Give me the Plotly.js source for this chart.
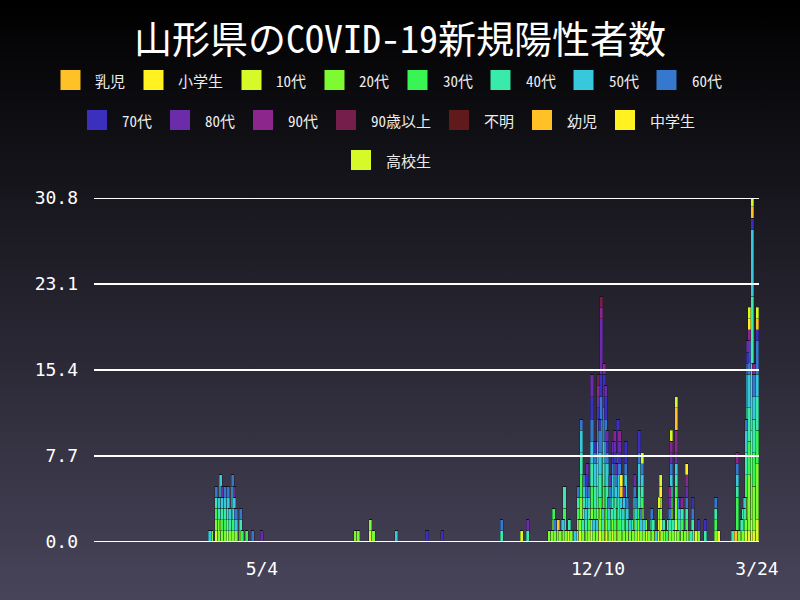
<!DOCTYPE html>
<html>
<head>
<meta charset="utf-8">
<script src="https://cdn.plot.ly/plotly-3.0.1.min.js"></script>
<style>
html,body{margin:0;padding:0;width:800px;height:600px;overflow:hidden;
background:linear-gradient(to bottom,#000000 0%,#48445a 100%);}
#chart{width:800px;height:600px;}
</style>
</head>
<body>
<div id="chart"></div>
<script>
// ---- data (daily new positives by age group, Yamagata) ----
const dates = [
'2020-03-31','2020-04-01','2020-04-04','2020-04-06','2020-04-07','2020-04-08','2020-04-10','2020-04-12','2020-04-13','2020-04-15',
'2020-04-16','2020-04-17','2020-04-20','2020-04-21','2020-04-24','2020-04-28','2020-05-04','2020-07-04','2020-07-06','2020-07-14',
'2020-07-16','2020-07-31','2020-08-20','2020-08-30','2020-10-08','2020-10-21','2020-10-25','2020-11-08','2020-11-09','2020-11-11',
'2020-11-12','2020-11-14','2020-11-15','2020-11-16','2020-11-17','2020-11-18','2020-11-19','2020-11-21','2020-11-23','2020-11-25',
'2020-11-27','2020-11-29','2020-12-01','2020-12-02','2020-12-03','2020-12-04','2020-12-06','2020-12-08','2020-12-09','2020-12-10',
'2020-12-11','2020-12-12','2020-12-13','2020-12-14','2020-12-15','2020-12-16','2020-12-17','2020-12-18','2020-12-19','2020-12-20',
'2020-12-21','2020-12-22','2020-12-23','2020-12-24','2020-12-25','2020-12-26','2020-12-27','2020-12-28','2020-12-29','2020-12-30',
'2020-12-31','2021-01-01','2021-01-03','2021-01-04','2021-01-05','2021-01-06','2021-01-07','2021-01-08','2021-01-09','2021-01-11',
'2021-01-12','2021-01-14','2021-01-16','2021-01-17','2021-01-19','2021-01-20','2021-01-22','2021-01-24','2021-01-26','2021-01-27',
'2021-01-30','2021-02-01','2021-02-02','2021-02-03','2021-02-06','2021-02-08','2021-02-10','2021-02-12','2021-02-14','2021-02-18',
'2021-02-25','2021-02-27','2021-03-08','2021-03-10','2021-03-11','2021-03-12','2021-03-14','2021-03-15','2021-03-16','2021-03-17',
'2021-03-18','2021-03-19','2021-03-21','2021-03-22','2021-03-24',
'2020-11-10','2020-11-20','2020-11-22','2020-11-24','2020-11-26','2020-11-28','2020-11-30','2020-12-05','2020-12-07','2021-01-02',
'2021-01-10','2021-01-13','2021-01-15','2021-01-18','2021-01-21','2021-01-23','2021-01-25','2021-01-28','2021-01-29','2021-01-31',
'2021-02-04','2021-02-05','2021-02-09'
];
const infant = [
0,0,0,0,0,0,0,0,0,0, 0,0,0,0,0,0,0,0,0,0, 0,0,0,0,0,0,0,0,0,0, 0,0,0,0,0,0,0,0,0,0,
0,0,0,0,0,0,0,0,0,0, 0,0,0,0,0,0,0,0,0,0, 0,0,0,0,0,0,0,0,0,0, 0,0,0,0,0,0,0,0,0,0,
0,0,0,0,0,0,0,0,0,0, 1,0,0,0,0,0,0,0,0,0, 0,0,0,0,0,0,0,0,0,0, 0,0,0,0,0,
0,0,0,0,0,0,0,0,0,0, 0,0,0,0,0,0,0,0,0,0, 0,0,0];
const elementary = [
0,0,0,0,0,0,0,0,0,0, 0,0,0,0,0,0,0,0,0,0, 0,0,0,0,0,0,0,0,0,0, 0,0,0,0,0,0,0,0,0,0,
0,1,0,0,0,0,0,0,0,0, 0,1,0,0,0,0,0,0,0,0, 0,0,0,0,1,0,0,0,0,0, 0,0,0,0,1,0,0,1,0,0,
0,0,0,0,1,0,0,0,0,1, 0,0,0,0,0,0,0,0,0,0, 0,0,0,0,0,0,0,0,0,0, 1,0,0,0,0,
0,0,0,1,0,0,0,0,0,0, 1,0,0,0,0,1,0,0,0,0, 0,0,0];
const age10 = [
0,0,1,0,1,0,0,1,0,0, 1,0,0,0,0,0,0,0,0,1, 0,0,0,0,0,1,0,0,1,1, 0,0,0,1,0,0,0,1,0,0,
1,1,1,0,0,0,1,1,0,1, 1,1,0,1,1,1,0,0,1,1, 0,1,1,0,0,0,0,1,0,1, 0,1,1,0,0,1,0,1,0,1,
0,0,1,0,1,2,0,0,0,1, 1,0,1,0,0,0,0,1,0,0, 0,0,0,0,0,0,0,0,1,1, 1,1,2,1,2,
0,1,0,0,0,1,0,1,0,0, 0,1,0,1,0,0,1,0,1,0, 1,0,0];
const age20 = [
0,1,1,2,1,1,1,1,1,1, 1,1,1,0,0,0,0,1,1,1, 1,0,0,0,0,0,0,1,0,1, 1,1,1,0,1,1,1,0,1,0,
1,2,2,1,1,1,2,1,1,2, 2,2,1,2,2,1,1,1,1,1, 1,1,1,1,1,1,1,1,1,1, 1,0,1,1,1,1,1,1,1,0,
1,1,0,0,1,1,1,0,1,1, 2,1,1,1,1,1,1,0,1,0, 1,0,0,0,1,1,1,1,1,3, 4,5,8,4,5,
1,0,1,0,1,1,1,1,1,1, 1,0,1,0,1,0,1,1,0,1, 0,1,0];
const age30 = [
0,0,1,0,1,1,1,0,0,1, 0,0,0,1,1,0,0,0,0,0, 0,0,0,0,0,0,0,0,0,1, 0,0,0,0,0,2,0,0,0,0,
1,2,0,0,1,1,2,1,0,2, 1,2,0,2,2,1,0,1,0,1, 1,1,1,1,0,0,1,1,0,0, 0,0,0,0,0,1,0,1,0,0,
0,0,0,0,0,0,0,1,0,1, 1,0,0,1,1,0,0,0,0,0, 1,0,0,0,3,0,0,1,0,2, 3,3,6,3,3,
0,0,0,0,0,0,0,0,0,0, 0,0,0,0,0,0,0,0,0,0, 0,0,0];
const age40 = [
0,0,1,1,1,1,1,1,1,1, 1,0,1,0,0,0,0,0,0,0, 0,0,0,0,1,0,1,0,0,0, 0,0,0,0,0,2,0,1,0,0,
1,2,1,1,1,1,2,2,0,2, 2,2,1,2,2,2,1,1,1,1, 2,1,2,2,1,1,1,1,1,0, 0,1,1,1,0,2,0,1,0,0,
0,1,0,0,0,1,1,0,1,1, 1,1,1,1,1,0,1,0,0,1, 1,0,1,0,1,0,1,1,1,2, 3,3,6,3,3,
0,0,0,0,0,0,1,0,0,0, 0,0,1,0,0,0,0,1,0,0, 0,0,1];
const age50 = [
1,0,0,1,2,1,1,1,1,2, 1,1,0,0,0,0,0,0,0,0, 0,1,0,0,0,0,0,0,0,0, 0,0,0,0,1,0,0,0,0,1,
0,2,1,1,1,1,2,2,1,2, 2,3,1,2,2,2,1,1,0,2, 2,1,2,2,1,1,1,2,1,0, 1,0,1,1,0,2,1,1,1,0,
0,0,0,1,0,0,0,0,0,1, 1,1,0,0,0,0,0,0,0,0, 0,0,0,0,1,0,0,0,1,2, 3,3,6,2,2,
0,0,0,0,0,0,0,0,1,0, 0,0,0,0,0,0,0,0,0,0, 0,0,0];
const age60 = [
0,0,1,0,0,0,1,1,0,1, 0,1,1,0,0,1,0,0,0,0, 0,0,0,0,1,0,0,0,0,0, 1,0,0,0,0,0,0,0,0,0,
1,1,1,0,1,1,2,1,0,2, 2,2,0,3,2,1,1,1,0,1, 1,1,1,1,0,0,0,1,1,0, 0,0,1,1,0,1,1,1,0,0,
0,1,0,0,0,0,0,0,1,1, 0,1,0,0,1,0,1,0,0,0, 1,0,0,0,1,0,0,0,0,1, 1,3,0,2,3,
0,0,0,0,0,0,0,0,0,0, 0,0,0,0,0,0,0,0,0,0, 0,0,0];
const age70 = [
0,0,0,0,0,0,0,0,0,0, 0,0,0,0,0,0,0,0,0,0, 0,0,1,1,0,0,0,0,0,0, 0,0,0,0,0,0,0,0,0,0,
0,0,0,0,1,0,2,1,0,1, 1,2,0,3,2,1,0,0,0,1, 1,0,3,1,0,0,0,2,0,0, 0,0,0,0,0,2,0,0,0,0,
0,0,0,0,0,0,0,0,0,0, 0,0,0,0,0,0,1,0,1,1, 0,0,0,0,0,0,0,0,0,0, 1,0,1,0,1,
0,0,0,0,0,0,0,0,0,0, 0,0,0,0,0,0,0,0,0,0, 0,0,0];
const age80 = [
0,0,0,0,0,1,0,0,0,0, 1,0,0,0,0,0,1,0,0,0, 0,0,0,0,0,0,1,0,0,0, 0,0,0,0,0,0,0,0,0,0,
0,0,0,0,1,0,2,0,0,1, 0,5,0,0,1,1,0,1,0,1, 1,1,0,1,0,0,1,0,0,0, 0,0,1,0,0,0,0,0,0,0,
0,0,0,0,0,0,0,0,1,1, 1,0,1,0,1,0,0,0,0,0, 0,0,0,0,0,0,0,0,0,0, 1,0,0,0,0,
0,0,0,0,0,0,0,0,0,0, 0,0,0,0,0,0,0,0,0,0, 0,0,0];
const age90 = [
0,0,0,0,0,0,0,0,0,0, 0,0,0,0,0,0,0,0,0,0, 0,0,0,0,0,0,0,0,0,0, 0,0,0,0,0,0,0,0,0,0,
0,0,0,0,0,0,0,0,0,1, 0,1,0,1,0,0,0,0,0,0, 1,0,0,1,0,0,0,0,0,0, 0,0,0,0,0,0,0,0,0,0,
0,0,0,0,0,0,0,0,1,1, 2,0,0,1,1,0,0,0,0,0, 0,0,0,0,1,0,0,0,0,0, 0,1,0,1,0,
0,0,0,0,0,0,0,0,0,0, 0,0,0,0,0,0,0,0,0,0, 0,0,0];
const age90plus = [
0,0,0,0,0,0,0,0,0,0, 0,0,0,0,0,0,0,0,0,0, 0,0,0,0,0,0,0,0,0,0, 0,0,0,0,0,0,0,0,0,0,
0,0,0,0,0,0,0,0,0,1, 0,1,0,0,0,0,0,0,0,0, 0,0,0,0,0,0,0,0,0,0, 0,0,0,0,0,0,0,0,0,0,
0,0,0,0,0,0,0,0,0,0, 0,0,0,0,0,0,0,0,0,0, 0,0,0,0,0,0,0,0,0,0, 0,0,0,0,0,
0,0,0,0,0,0,0,0,0,0, 0,0,0,0,0,0,0,0,0,0, 0,0,0];
const unknown = [
0,0,0,0,0,0,0,0,0,0, 0,0,0,0,0,0,0,0,0,0, 0,0,0,0,0,0,0,0,0,0, 0,0,0,0,0,0,0,0,0,0,
0,0,0,0,0,0,0,0,0,0, 0,0,0,0,0,0,0,0,0,0, 0,0,0,0,0,0,0,0,0,0, 0,0,0,0,0,0,0,0,0,0,
0,0,0,0,0,0,0,0,0,0, 0,0,0,0,0,0,0,0,0,0, 0,0,0,0,0,0,0,0,0,0, 0,0,0,0,0,
0,0,0,0,0,0,0,0,0,0, 0,0,0,0,0,0,0,0,0,0, 0,0,0];
const preschool = [
0,0,0,0,0,0,0,0,0,0, 0,0,0,0,0,0,0,0,0,0, 0,0,0,0,0,0,0,0,0,0, 0,1,0,0,0,0,0,0,0,0,
0,0,0,0,0,0,0,0,0,0, 0,0,0,0,0,0,0,0,0,0, 0,0,0,0,1,0,0,0,0,0, 0,0,0,0,0,0,0,0,0,0,
0,0,0,0,0,0,0,0,0,0, 2,0,0,0,0,0,0,0,0,0, 0,0,0,1,0,0,0,0,0,0, 0,0,1,0,1,
0,0,0,0,0,0,0,0,0,0, 0,0,0,0,0,0,0,0,0,0, 0,0,0];
const juniorHigh = [
0,0,0,0,0,0,0,0,0,0, 0,0,0,0,0,0,0,0,0,0, 0,0,0,0,0,0,0,0,0,0, 0,0,0,0,0,0,0,0,0,0,
0,0,0,0,0,0,0,0,0,0, 0,0,0,0,0,0,0,0,0,0, 0,0,0,0,1,0,0,0,0,0, 0,0,0,0,0,0,0,0,0,0,
0,0,0,0,0,1,0,0,0,0, 0,0,0,0,1,0,0,0,0,0, 0,1,0,0,0,0,0,0,0,0, 0,1,0,0,0,
0,0,0,0,0,0,0,0,0,0, 0,0,0,0,0,0,0,0,0,0, 0,0,0];
const highSchool = [
0,0,0,0,0,0,0,0,0,0, 0,0,0,0,0,0,0,0,0,0, 0,0,0,0,0,0,0,0,0,0, 0,0,0,0,0,0,0,0,0,0,
0,0,0,0,0,0,0,0,0,0, 0,0,0,0,0,0,0,0,0,0, 0,0,0,0,0,0,0,0,0,0, 0,0,0,0,0,0,0,1,0,0,
0,0,0,0,1,1,0,0,0,1, 1,0,0,0,0,0,0,0,0,0, 0,0,0,0,0,0,0,0,0,0, 0,1,1,0,1,
0,0,0,0,0,0,0,0,0,0, 0,0,0,0,0,0,0,0,0,0, 0,0,0];

const seriesNames = ['乳児','小学生','10代','20代','30代','40代','50代','60代','70代','80代','90代','90歳以上','不明','幼児','中学生','高校生'];
const seriesValues = [infant, elementary, age10, age20, age30, age40, age50, age60, age70, age80, age90, age90plus, unknown, preschool, juniorHigh, highSchool];
const seriesColors = ['#ffc125','#fff220','#d6fa28','#7efa32','#38f554','#39ebaa','#37c8dc','#3678ce','#3b2fbe','#6c2ba8','#8d268c','#751e4c','#611a1c','#ffc125','#fff220','#d6fa28'];

const yTicks = [0, 7.7, 15.4, 23.1, 30.8];
const xTickDates = ['2020-05-04','2020-12-10','2021-03-24'];
const xTickLabels = ['5/4','12/10','3/24'];

// ---- layout constants ----
const W = 800, H = 600;
const M = {l:94, r:41, t:198, b:58};
const PW = W - M.l - M.r, PH = H - M.t - M.b;
const monoCJK = '"Noto Sans Mono CJK JP", "Noto Sans CJK JP", "DejaVu Sans Mono", monospace';
const tickFont = '"DejaVu Sans Mono", "Noto Sans Mono CJK JP", monospace';
const DAY = 86400000;

const traces = seriesNames.map((name, k) => ({
  type: 'bar',
  name: name,
  x: dates,
  y: seriesValues[k],
  width: 2.0 * DAY,
  marker: {color: seriesColors[k], line: {color: 'rgba(20,18,30,0.55)', width: 0.6}},
  showlegend: false,
  hoverinfo: 'x+y+name'
}));

// custom legend (Chart.js-like centred rows)
const px2x = px => (px - M.l) / PW;
const py2y = py => (M.t + PH - py) / PH;
const legendFontSize = 15;
const cv = document.createElement('canvas').getContext('2d');
cv.font = legendFontSize + 'px ' + monoCJK;
const items = seriesNames.map((n, k) => ({name: n, color: seriesColors[k], w: 34 + cv.measureText(n).width + 19}));
const rows = [];
let cur = [], curW = 0;
items.forEach(it => {
  if (cur.length && curW + it.w > 705) { rows.push(cur); cur = []; curW = 0; }
  cur.push(it); curW += it.w;
});
if (cur.length) rows.push(cur);

const shapes = [];
const annotations = [];
rows.forEach((row, r) => {
  const rowW = row.reduce((s, it) => s + it.w, 0);
  let x = W / 2 - rowW / 2;
  const cy = 80 + r * 40;
  row.forEach(it => {
    shapes.push({type:'rect', xref:'paper', yref:'paper', layer:'above',
      x0: px2x(x), x1: px2x(x + 20), y0: py2y(cy + 10), y1: py2y(cy - 10),
      fillcolor: it.color, line: {width: 0}});
    annotations.push({xref:'paper', yref:'paper', x: px2x(x + 33), y: py2y(cy),
      xanchor:'left', yanchor:'middle', showarrow:false, text: it.name,
      font:{family: monoCJK, size: legendFontSize, color:'#ececec'}});
    x += it.w;
  });
});

// horizontal grid lines drawn above the bars
yTicks.forEach(v => {
  shapes.push({type:'line', xref:'paper', yref:'y', x0:0, x1:1, y0:v, y1:v,
    layer:'above', line:{color:'#ffffff', width:2}});
});

const layout = {
  width: W, height: H,
  margin: M,
  paper_bgcolor: 'rgba(0,0,0,0)',
  plot_bgcolor: 'rgba(0,0,0,0)',
  barmode: 'stack',
  bargap: 0,
  showlegend: false,
  title: {text: '山形県のCOVID-19新規陽性者数', x: 0.5, xanchor: 'center',
    yref: 'container', y: 1 - 40 / H, yanchor: 'middle',
    font: {family: monoCJK, size: 38, color: '#ffffff'}},
  xaxis: {type: 'date', range: ['2020-01-15 02:00', '2021-03-25 07:00'],
    tickmode: 'array', tickvals: xTickDates, ticktext: xTickLabels,
    showgrid: false, zeroline: false, showline: false, ticks: '',
    ticklabelstandoff: 14,
    tickfont: {family: tickFont, size: 18, color: '#ffffff'}},
  yaxis: {range: [0, 30.8], tickmode: 'array', tickvals: yTicks,
    ticktext: yTicks.map(v => v.toFixed(1)),
    showgrid: false, zeroline: false, showline: false, ticks: '',
    ticklabelstandoff: 15,
    tickfont: {family: tickFont, size: 18, color: '#ffffff'}},
  shapes: shapes,
  annotations: annotations
};

Plotly.newPlot('chart', traces, layout, {displayModeBar: false, staticPlot: true});
</script>
</body>
</html>
